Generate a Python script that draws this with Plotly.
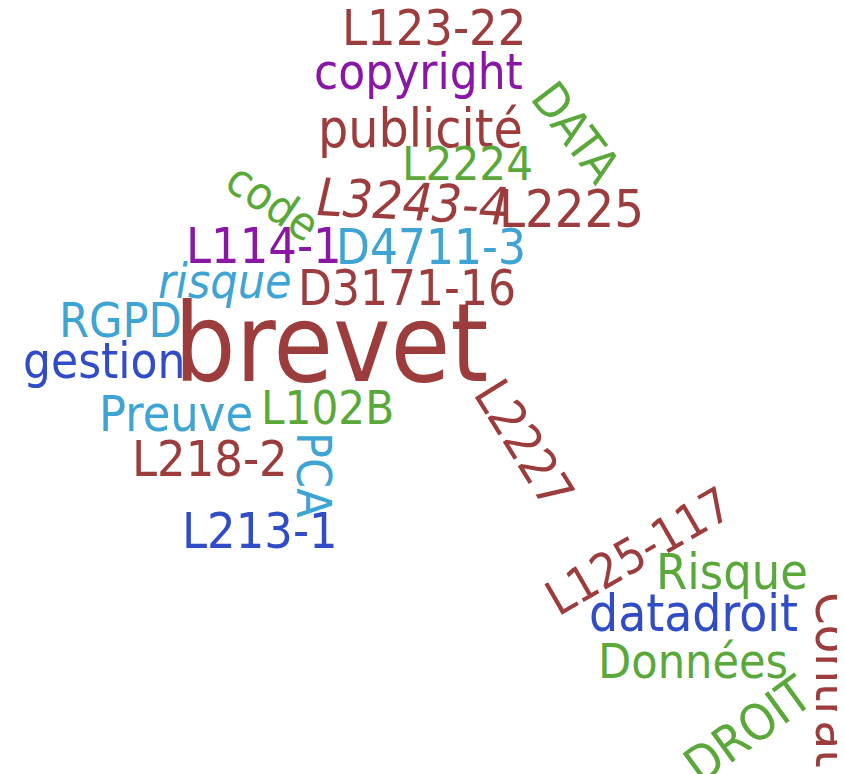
import plotly.graph_objects as go

# Word cloud data
words = ["L123-22", "copyright", "publicité", "DATA", "L2224", "code", "L3243-4",
         "L2225", "L114-1", "D4711-3", "risque", "D3171-16", "RGPD", "brevet",
         "gestion", "L2227", "Preuve", "L102B", "L218-2", "PCA", "L213-1",
         "L125-117", "Risque", "datadroit", "Contrat", "Données", "DROIT"]
weights = [50, 49, 53, 48, 47, 46, 52,
           52, 50, 49, 48, 49, 48, 108,
           49, 50, 50, 47, 50, 48, 50,
           48, 50, 51, 52, 48, 50]

# Layout of the cloud (pixel space)
x_pos = [426, 410, 412, 568, 459, 265, 405,
         563, 256, 423, 217, 399, 112, 323,
         96, 516, 168, 319, 202, 306, 252,
         630, 724, 685, 826, 685, 740]
y_pos = [20, 64, 120, 124, 155, 194, 194,
         201, 238, 239, 273, 280, 312, 335,
         353, 436, 406, 399, 451, 467, 523,
         543, 564, 605, 672, 653, 722]
angles = [0, 0, 0, 53, 0, 34, 3,
          0, 0, 0, 0, 0, 0, 0,
          0, 58, 0, 0, 0, 90, 0,
          -30, 0, 0, 90, 0, -36]
italic = {"L3243-4", "risque"}

RED = "#9c3c3c"
PURPLE = "#8a16a6"
GREEN = "#5aa83a"
LBLUE = "#3da4d3"
BLUE = "#304cc6"
colors = [RED, PURPLE, RED, GREEN, GREEN, GREEN, RED,
          RED, PURPLE, LBLUE, LBLUE, RED, LBLUE, RED,
          BLUE, RED, LBLUE, GREEN, RED, LBLUE, BLUE,
          RED, GREEN, BLUE, RED, GREEN, GREEN]

W, H = 845, 774
fig = go.Figure()
fig.add_trace(go.Scatter(x=[0, W], y=[0, H], mode="markers",
                         marker=dict(opacity=0), hoverinfo="skip", showlegend=False))

for w, s, x, y, a, c in zip(words, weights, x_pos, y_pos, angles, colors):
    txt = f"<i>{w}</i>" if w in italic else w
    fig.add_annotation(x=x, y=y, xref="x", yref="y", text=txt, showarrow=False,
                       textangle=a, xanchor="center", yanchor="middle",
                       font=dict(family="DejaVu Sans Condensed, DejaVu Sans", size=s, color=c))

fig.update_layout(width=W, height=H, margin=dict(l=0, r=0, t=0, b=0),
                  paper_bgcolor="white", plot_bgcolor="white",
                  xaxis=dict(range=[0, W], visible=False, fixedrange=True),
                  yaxis=dict(range=[H, 0], visible=False, fixedrange=True))
fig.write_html("out.html")
